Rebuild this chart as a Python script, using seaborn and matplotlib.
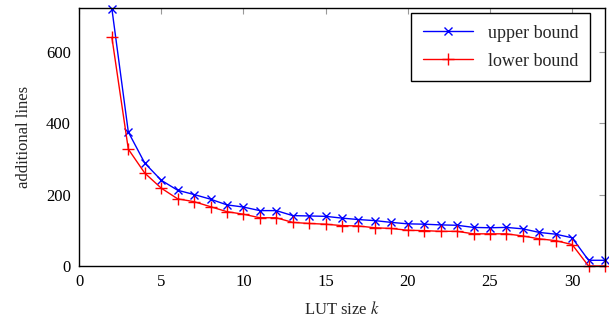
import numpy as np
import pandas as pd
import seaborn as sns
from matplotlib import pyplot as plt

# LUT sizes and bounds
lut_size = list(range(2, 33))
upper = [720, 375, 288, 240, 212, 200, 187, 171, 165, 155,
         155, 141, 140, 139, 134, 130, 127, 122, 118, 117,
         115, 114, 108, 107, 108, 104, 94, 89, 79, 16, 16]
lower = [640, 327, 260, 218, 188, 180, 166, 152, 145, 135,
         135, 122, 119, 117, 113, 112, 107, 105, 100, 99,
         97, 97, 90, 90, 90, 84, 76, 71, 60, 0, 0]
x_ticks = [0, 5, 10, 15, 20, 25, 30]
y_ticks = [0, 200, 400, 600]

df = pd.DataFrame({'k': lut_size, 'upper bound': upper, 'lower bound': lower})

sns.set_style('white')
plt.rcParams['font.family'] = ['Liberation Serif', 'DejaVu Serif']
plt.rcParams['mathtext.fontset'] = 'stix'

fig = plt.figure(figsize=(6.09, 3.25), dpi=100)
ax = fig.add_axes([79 / 609, 59 / 325, 526 / 609, 258 / 325])

sns.lineplot(data=df, x='k', y='upper bound', ax=ax, color='blue', marker='x',
             markersize=5.5, markeredgewidth=1.0, markeredgecolor='blue',
             linewidth=1.0, label='upper bound', clip_on=False)
sns.lineplot(data=df, x='k', y='lower bound', ax=ax, color='red', marker='+',
             markersize=8, markeredgewidth=1.0, markeredgecolor='red',
             linewidth=1.0, label='lower bound', clip_on=False)

ax.set_xlim(0, 32)
ax.set_ylim(0, 722)
ax.set_xticks(x_ticks)
ax.set_yticks(y_ticks)
ax.tick_params(direction='in', length=4, color='#999999', width=0.8,
               top=True, right=True, labelsize=12, labelcolor='black', pad=6)
for sp in ax.spines.values():
    sp.set_color('black')
    sp.set_linewidth(1.0)

ax.set_xlabel('LUT size $k$', fontsize=12, labelpad=8)
ax.set_ylabel('additional lines', fontsize=12, labelpad=10)

leg = ax.legend(loc='upper right', bbox_to_anchor=(590 / 609, 1 - 13 / 325),
                bbox_transform=fig.transFigure, borderaxespad=0,
                fontsize=13, frameon=True, fancybox=False,
                edgecolor='black', framealpha=1,
                handlelength=2.8, borderpad=0.65, labelspacing=0.6)
leg.get_frame().set_linewidth(1.0)

plt.savefig('out.png', dpi=100)
plt.close()
